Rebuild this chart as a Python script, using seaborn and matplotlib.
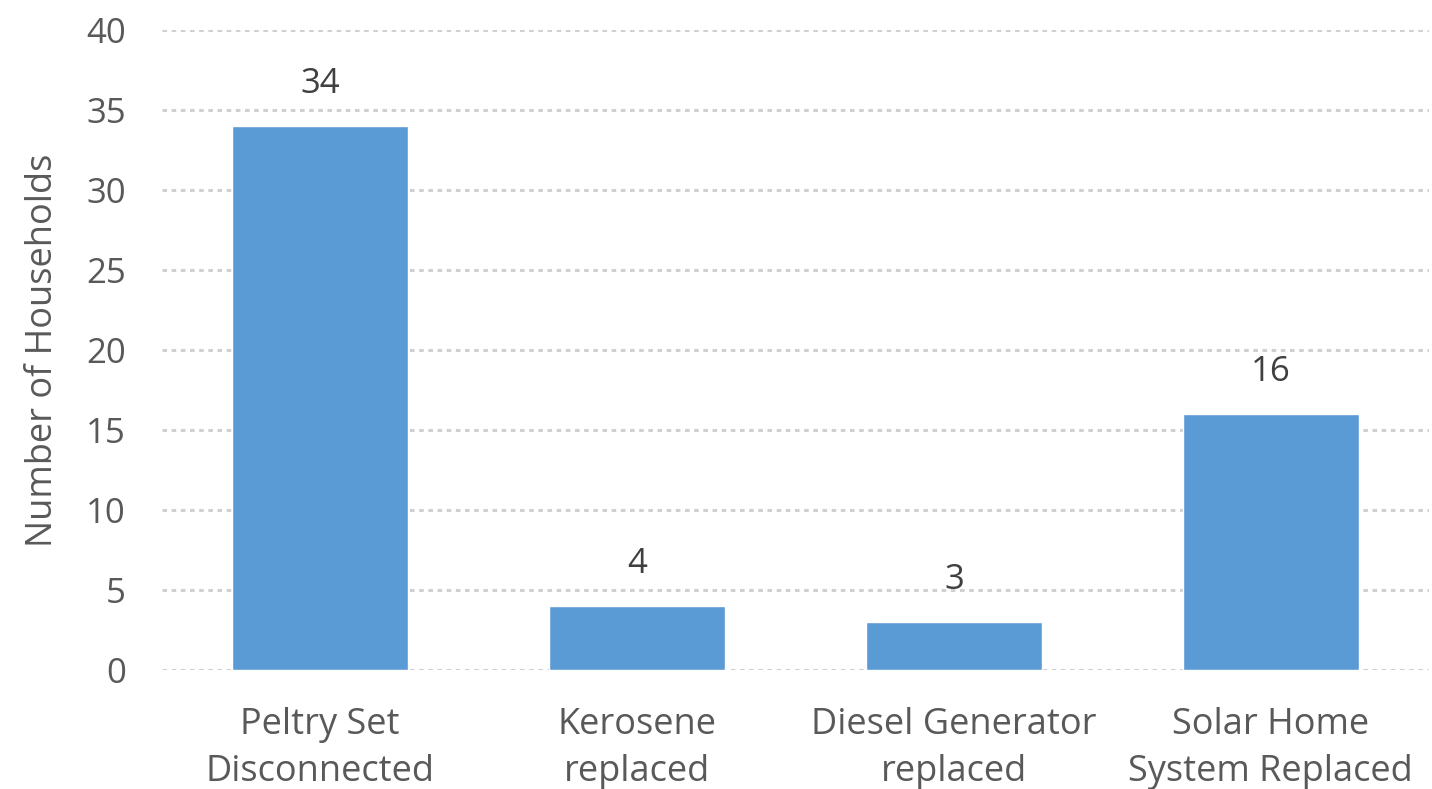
import seaborn as sns
import pandas as pd
import matplotlib.pyplot as plt

# Data
categories = ['Peltry Set\nDisconnected', 'Kerosene\nreplaced',
              'Diesel Generator\nreplaced', 'Solar Home\nSystem Replaced']
households = [34, 4, 3, 16]
y_ticks = [0, 5, 10, 15, 20, 25, 30, 35, 40]

bar_color = '#5B9BD5'
text_color = '#595959'
grid_color = '#D0D0D0'

sns.set_style("white")
plt.rcParams['font.family'] = ['Open Sans', 'DejaVu Sans']

df = pd.DataFrame({'category': categories, 'households': households})

fig = plt.figure(figsize=(14.32, 7.89), dpi=100)
ax = fig.add_axes([0.113, 0.151, 0.885, 0.811])

sns.barplot(data=df, x='category', y='households', color=bar_color,
            width=0.555, saturation=1, ax=ax, zorder=3)

ax.set_ylim(0, 40)
ax.set_xlim(-0.5, len(categories) - 0.5)
ax.set_yticks(y_ticks)
ax.yaxis.grid(True, color=grid_color, linestyle=(0, (1.5, 1.5)), linewidth=2.2, zorder=0)
ax.set_axisbelow(True)
for s in ax.spines.values():
    s.set_visible(False)

ax.tick_params(axis='y', length=0, labelsize=25, colors=text_color, pad=26)
ax.tick_params(axis='x', length=0, labelsize=26, colors=text_color, pad=27)
for lbl in ax.get_xticklabels():
    lbl.set_linespacing(1.38)

ax.set_xlabel(None)
ax.set_ylabel('Number of Households', fontsize=26, color=text_color, labelpad=18)

# Value labels above bars
for i, v in enumerate(households):
    ax.annotate(str(v), (i, v), xytext=(0, 30), textcoords='offset points',
                ha='center', va='center', fontsize=25, color='#404040')

plt.savefig('out.png', dpi=100)
